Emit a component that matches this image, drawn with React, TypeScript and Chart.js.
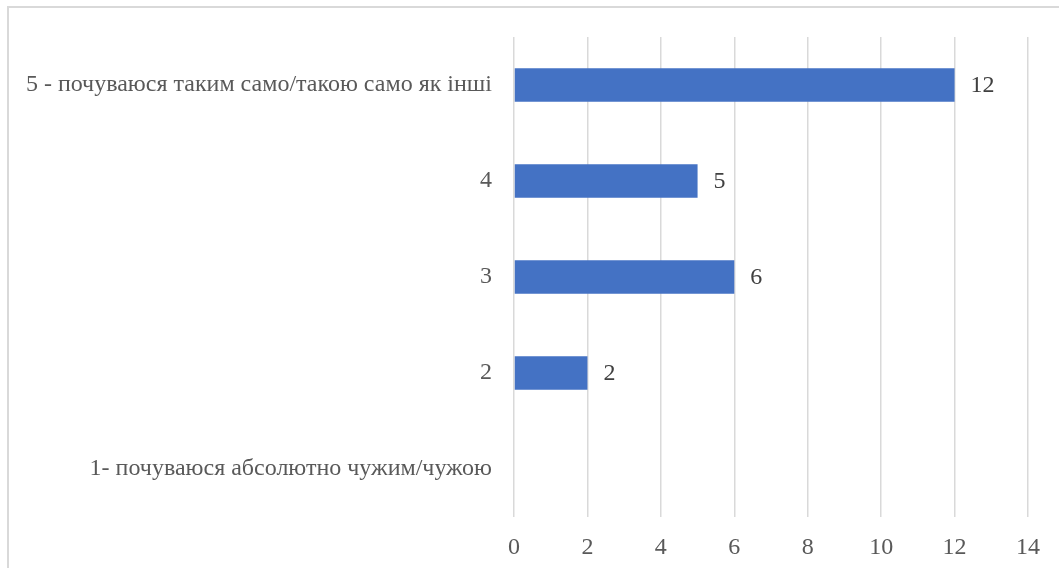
import React, { useEffect, useRef } from "react";
import { Chart, registerables } from "chart.js";

Chart.register(...registerables);

const categories = [
  "5 - почуваюся таким само/такою само як інші",
  "4",
  "3",
  "2",
  "1- почуваюся абсолютно чужим/чужою",
];
const values: (number | null)[] = [12, 5, 6, 2, null];
const xTicks = [0, 2, 4, 6, 8, 10, 12, 14];

const FONT = "'Liberation Serif', 'Times New Roman', serif";

const valueLabels = {
  id: "valueLabels",
  afterDatasetsDraw(chart: any) {
    const ctx = chart.ctx;
    const meta = chart.getDatasetMeta(0);
    ctx.save();
    ctx.font = `24px ${FONT}`;
    ctx.fillStyle = "#404040";
    ctx.textAlign = "left";
    ctx.textBaseline = "middle";
    meta.data.forEach((bar: any, i: number) => {
      const v = values[i];
      if (v === null || v === undefined) return;
      ctx.fillText(String(v), bar.x + 16, bar.y + 1);
    });
    ctx.restore();
  },
};

export default function App() {
  const ref = useRef<HTMLCanvasElement | null>(null);

  useEffect(() => {
    document.body.style.margin = "0";
    document.body.style.overflow = "hidden";
    if (!ref.current) return;
    const chart = new Chart(ref.current, {
      type: "bar",
      data: {
        labels: categories,
        datasets: [
          {
            data: values as any,
            backgroundColor: "#4472c4",
            borderWidth: 0,
            barPercentage: 0.35,
            categoryPercentage: 1,
          },
        ],
      },
      options: {
        indexAxis: "y",
        animation: false,
        responsive: false,
        maintainAspectRatio: false,
        layout: { padding: { top: 37, right: 31, left: 0, bottom: 0 } },
        plugins: {
          legend: { display: false },
          tooltip: { enabled: false },
        },
        scales: {
          x: {
            min: 0,
            max: 14,
            afterBuildTicks: (scale: any) => {
              scale.ticks = xTicks.map((v) => ({ value: v }));
            },
            afterFit: (scale: any) => {
              scale.height = 51;
            },
            grid: { color: "#d9d9d9", lineWidth: 1.5, drawTicks: false },
            border: { display: false },
            ticks: {
              padding: 16,
              color: "#595959",
              font: { family: FONT, size: 24 },
            },
          },
          y: {
            afterFit: (scale: any) => {
              scale.width = 514;
            },
            grid: { display: false, drawTicks: false },
            border: { display: false },
            ticks: {
              padding: 22,
              color: "#595959",
              font: { family: FONT, size: 24 },
            },
          },
        },
      },
      plugins: [valueLabels],
    });
    return () => chart.destroy();
  }, []);

  return (
    <div
      style={{
        position: "fixed",
        left: 0,
        top: 0,
        width: 1059,
        height: 568,
        overflow: "hidden",
        background: "#ffffff",
      }}
    >
      <div
        style={{
          position: "absolute",
          left: 7,
          top: 6,
          width: 1100,
          height: 620,
          border: "2px solid #d9d9d9",
          boxSizing: "border-box",
        }}
      />
      <canvas
        ref={ref}
        width={1059}
        height={568}
        style={{ position: "absolute", left: 0, top: 0, width: 1059, height: 568 }}
      />
    </div>
  );
}
